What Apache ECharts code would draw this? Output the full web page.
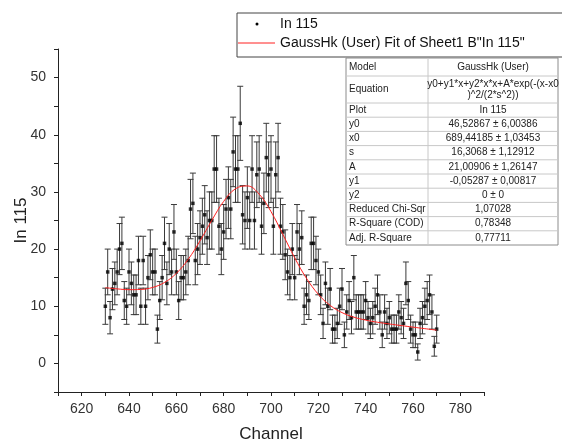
<!DOCTYPE html>
<html>
<head>
<meta charset="utf-8">
<script src="https://cdn.jsdelivr.net/npm/echarts@6/dist/echarts.min.js"></script>
<style>
  html, body { margin: 0; padding: 0; background: #fff; }
  #main { width: 562px; height: 441px; }
</style>
</head>
<body>
<div id="main"></div>
<script>
// counts per channel, first channel is 630, one value per channel up to 770
var startChannel = 630;
var counts = [
    10, 16, 8, 13, 14, 16, 20, 21, 11, 10,
    16, 14, 12, 12, 18, 10, 18, 10, 15, 19,
    16, 16, 6, 11, 15, 21, 14, 20, 16, 23,
    16, 11, 15, 15, 16, 18, 27, 28, 18, 20,
    22, 24, 26, 22, 25, 25, 34, 34, 24, 20,
    23, 27, 29, 27, 37, 34, 34, 42, 26, 25,
    29, 25, 34, 25, 33, 34, 24, 28, 36, 33,
    34, 24, 33, 36, 24, 23, 19, 16, 15, 20,
    15, 23, 20, 22, 10, 12, 11, 21, 21, 18,
    16, 12, 7, 14, 10, 13, 6, 6, 7, 10,
    13, 5, 9, 11, 8, 15, 9, 9, 9, 9,
    11, 8, 7, 8, 10, 12, 9, 5, 9, 7,
    8, 6, 6, 6, 9, 8, 7, 14, 11, 6,
    5, 5, 2, 7, 8, 10, 11, 12, 9, 3,
    6
];

// fit curve
var fitChannels = [630, 635, 640, 645, 650, 655, 660, 665, 670, 675, 680, 685, 690, 695, 700,
    705, 710, 715, 720, 725, 730, 735, 740, 745, 750, 755, 760, 765, 770];
var fitValues = [13.25, 13.04, 12.90, 12.94, 13.29, 14.16, 15.75, 18.20, 21.43, 25.04, 28.34, 30.56, 31.05, 29.61, 26.56,
    22.58, 18.48, 14.88, 12.09, 10.15, 8.89, 8.09, 7.58, 7.20, 6.90, 6.62, 6.35, 6.08, 5.82];

var legendNames = ['In 115', 'GaussHk (User) Fit of Sheet1 B"In 115"'];

var tableLabels = ['Model', 'Equation', 'Plot', 'y0', 'x0', 's', 'A', 'y1', 'y2',
    'Reduced Chi-Sqr', 'R-Square (COD)', 'Adj. R-Square'];
var tableValues = ['GaussHk (User)', 'y0+y1*x+y2*x*x+A*exp(-(x-x0\n)^2/(2*s^2))', 'In 115',
    '46,52867 ± 6,00386', '689,44185 ± 1,03453', '16,3068 ± 1,12912', '21,00906 ± 1,26147',
    '-0,05287 ± 0,00817', '0 ± 0', '1,07028', '0,78348', '0,77711'];

var font = '"Liberation Sans", Arial, sans-serif';

// points + error bars (counting errors)
var points = [];
var bars = [];
for (var i = 0; i < counts.length; i++) {
    var ch = startChannel + i;
    var err = Math.sqrt(counts[i]);
    points.push([ch, counts[i]]);
    bars.push([ch, counts[i] - err, counts[i] + err]);
}
var fitData = fitChannels.map(function (c, i) { return [c, fitValues[i]]; });

// table graphic
function buildTable() {
    var left = 346, mid = 428, right = 558, top = 58;
    var els = [];
    var y = top;
    var rows = [];
    for (var i = 0; i < tableLabels.length; i++) {
        var h = i === 0 ? 18 : (i === 1 ? 27 : 14.2);
        rows.push({ y: y, h: h });
        y += h;
    }
    els.push({
        type: 'rect', shape: { x: left, y: top, width: right - left, height: y - top },
        style: { fill: '#fff', stroke: '#8c8c8c', lineWidth: 1 }, z: 10
    });
    for (var r = 1; r < rows.length; r++) {
        els.push({
            type: 'line', shape: { x1: left, y1: rows[r].y, x2: right, y2: rows[r].y },
            style: { stroke: '#c8c8c8', lineWidth: 1 }, z: 11
        });
    }
    els.push({
        type: 'line', shape: { x1: mid, y1: top, x2: mid, y2: y },
        style: { stroke: '#c8c8c8', lineWidth: 1 }, z: 11
    });
    for (var k = 0; k < rows.length; k++) {
        var cy = rows[k].y + rows[k].h / 2;
        els.push({
            type: 'text', x: left + 3, y: cy, z: 12,
            style: { text: tableLabels[k], fill: '#222', font: '10px ' + font, textVerticalAlign: 'middle', textAlign: 'left' }
        });
        els.push({
            type: 'text', x: (mid + right) / 2, y: cy, z: 12,
            style: { text: tableValues[k], fill: '#222', font: '10px ' + font, textVerticalAlign: 'middle', textAlign: 'center', lineHeight: 11 }
        });
    }
    return els;
}

function buildLegend() {
    return [
        { type: 'rect', shape: { x: 237, y: 13, width: 400, height: 44 },
          style: { fill: '#fff', stroke: '#444', lineWidth: 1 }, z: 10 },
        { type: 'circle', shape: { cx: 257, cy: 24, r: 1.5 }, style: { fill: '#000' }, z: 11 },
        { type: 'text', x: 280, y: 24, z: 11,
          style: { text: legendNames[0], fill: '#111', font: '14px ' + font, textVerticalAlign: 'middle' } },
        { type: 'line', shape: { x1: 238, y1: 43, x2: 275, y2: 43 }, style: { stroke: '#ff2020', lineWidth: 1 }, z: 11 },
        { type: 'text', x: 280, y: 43, z: 11,
          style: { text: legendNames[1], fill: '#111', font: '14px ' + font, textVerticalAlign: 'middle' } }
    ];
}

var myChart = echarts.init(document.getElementById('main'));

var option = {
    animation: false,
    backgroundColor: '#fff',
    grid: { left: 58, right: 78, top: 49, bottom: 49, containLabel: false, outerBoundsMode: 'none' },
    xAxis: {
        type: 'value',
        min: 610,
        max: 790,
        interval: 10,
        name: 'Channel',
        nameLocation: 'middle',
        nameGap: 34,
        nameTextStyle: { fontSize: 17, color: '#222', fontFamily: font },
        axisLine: { show: true, onZero: false, lineStyle: { color: '#222', width: 1 } },
        axisTick: { show: true, length: 4, lineStyle: { color: '#222' } },
        axisLabel: {
            fontSize: 14, color: '#333', fontFamily: font, margin: 10,
            formatter: function (v) { return v % 20 === 0 ? String(v) : ''; }
        },
        splitLine: { show: false }
    },
    yAxis: {
        type: 'value',
        min: -5,
        max: 55,
        interval: 5,
        name: 'In 115',
        nameLocation: 'middle',
        nameGap: 28,
        nameMoveOverlap: false,
        nameTextStyle: { fontSize: 17, color: '#222', fontFamily: font },
        axisLine: { show: true, onZero: false, lineStyle: { color: '#222', width: 1 } },
        axisTick: { show: true, length: 4, lineStyle: { color: '#222' } },
        axisLabel: {
            fontSize: 14, color: '#333', fontFamily: font, margin: 12,
            formatter: function (v) { return v % 10 === 0 ? String(v) : ''; }
        },
        splitLine: { show: false }
    },
    series: [
        {
            name: 'errors',
            type: 'custom',
            data: bars,
            encode: { x: 0, y: [1, 2] },
            z: 1,
            renderItem: function (params, api) {
                var lo = api.coord([api.value(0), api.value(1)]);
                var hi = api.coord([api.value(0), api.value(2)]);
                var hw = 3;
                var st = { stroke: '#3a3a3a', lineWidth: 1 };
                return {
                    type: 'group',
                    children: [
                        { type: 'line', shape: { x1: lo[0], y1: lo[1], x2: hi[0], y2: hi[1] }, style: st },
                        { type: 'line', shape: { x1: lo[0] - hw, y1: lo[1], x2: lo[0] + hw, y2: lo[1] }, style: st },
                        { type: 'line', shape: { x1: hi[0] - hw, y1: hi[1], x2: hi[0] + hw, y2: hi[1] }, style: st }
                    ]
                };
            }
        },
        {
            name: legendNames[0],
            type: 'scatter',
            data: points,
            symbol: 'rect',
            symbolSize: 3.5,
            itemStyle: { color: '#000' },
            z: 2
        },
        {
            name: legendNames[1],
            type: 'line',
            data: fitData,
            showSymbol: false,
            smooth: 0.4,
            lineStyle: { color: '#ff2020', width: 1 },
            z: 3
        }
    ],
    graphic: buildLegend().concat(buildTable())
};

myChart.setOption(option);

window.onresize = function () {
    myChart.resize();
};
</script>
</body>
</html>
